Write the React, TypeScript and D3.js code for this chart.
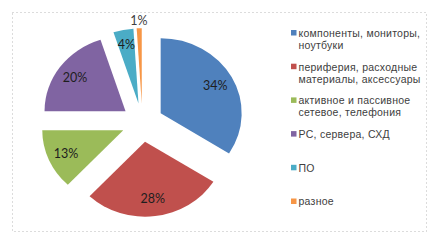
import React from "react";
import * as d3 from "d3";

const categories = [
  "компоненты, мониторы,\nноутбуки",
  "периферия, расходные\nматериалы, аксессуары",
  "активное и пассивное\nсетевое, телефония",
  "PC, сервера, СХД",
  "ПО",
  "разное",
];
const values = [34, 28, 13, 20, 4, 1];
const labels = ["34%", "28%", "13%", "20%", "4%", "1%"];
const colors = ["#4F81BD", "#C0504D", "#9BBB59", "#8064A2", "#4BACC6", "#F79646"];

const W = 438;
const H = 244;
const cx = 142.4;
const cy = 122.5;
const r = 75;
const sx = 1.08;
const explode = 19.3;

export default function App() {
  const pie = d3.pie<number>().sort(null).startAngle(0).endAngle(2 * Math.PI);
  const arcs = pie(values);
  const arcGen = d3.arc<d3.PieArcDatum<number>>().innerRadius(0).outerRadius(r);
  const labelFont = "Lato, 'Open Sans', sans-serif";
  const legendFont = "'Liberation Sans', Arial, sans-serif";

  const legendX = 291;
  const legendY0 = 32.8;
  const legendStep = 33.7;
  const lineH = 12.2;

  return (
    <svg
      width={W}
      height={H}
      style={{ position: "absolute", left: 0, top: 0, display: "block", background: "#fff" }}
    >
      <rect
        x={12.5}
        y={12.5}
        width={414}
        height={219}
        fill="none"
        stroke="#b8b8b8"
        strokeWidth={1}
        strokeDasharray="1,3"
      />
      {arcs.map((a, i) => {
        const mid = (a.startAngle + a.endAngle) / 2;
        const ox = cx + sx * explode * Math.sin(mid);
        const oy = cy - explode * Math.cos(mid);
        return (
          <path
            key={i}
            d={arcGen(a) || ""}
            fill={colors[i]}
            transform={`translate(${ox},${oy}) scale(${sx},1)`}
          />
        );
      })}
      {arcs.map((a, i) => {
        const mid = (a.startAngle + a.endAngle) / 2;
        const outside = values[i] < 2;
        const k = outside ? 1.1 : values[i] < 5 ? 0.8 : 0.77;
        const dist = explode + k * r;
        const x = cx + sx * dist * Math.sin(mid);
        const y = cy - dist * Math.cos(mid);
        return (
          <text
            key={i}
            x={x}
            y={y}
            textAnchor="middle"
            dominantBaseline="central"
            fontFamily={labelFont}
            fontSize={12.5}
            fill={outside ? "#404040" : "#1e1e1e"}
          >
            {labels[i]}
          </text>
        );
      })}
      {categories.map((c, i) => {
        const y = legendY0 + legendStep * i;
        const lines = c.split("\n");
        return (
          <g key={i}>
            <rect x={legendX} y={y - 2.8} width={5.5} height={5.5} fill={colors[i]} />
            {lines.map((ln, j) => (
              <text
                key={j}
                x={legendX + 7.5}
                y={y + j * lineH}
                dominantBaseline="central"
                fontFamily={legendFont}
                fontSize={10.5}
                letterSpacing={0.25}
                fill="#404040"
              >
                {ln}
              </text>
            ))}
          </g>
        );
      })}
    </svg>
  );
}
